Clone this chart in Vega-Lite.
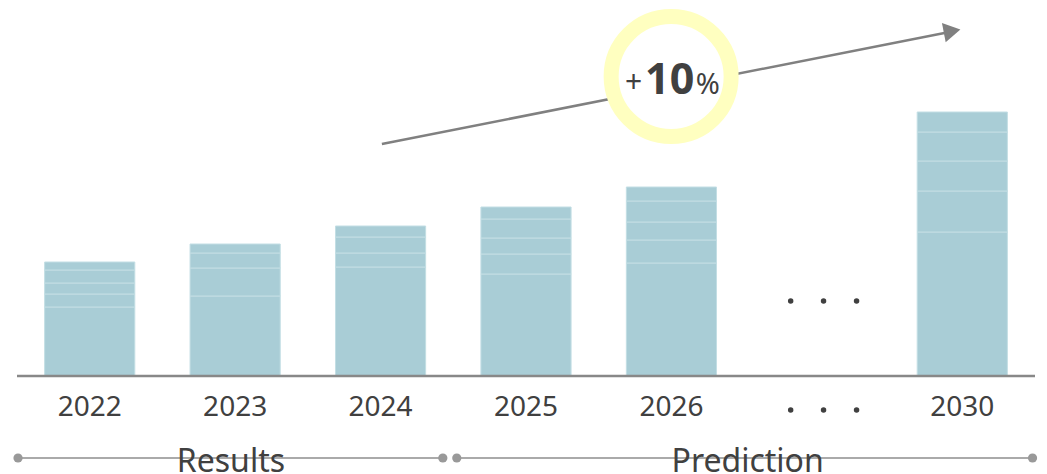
{
  "$schema": "https://vega.github.io/schema/vega-lite/v6.json",
  "width": 1018,
  "height": 474,
  "autosize": "none",
  "padding": {"left": 17, "right": 12, "top": 0, "bottom": 0},
  "background": "white",
  "config": {"view": {"stroke": null}, "font": "Noto Sans"},
  "datasets": {
    "bars": [
      {"year": "2022", "seg": 1, "v": 69}, {"year": "2022", "seg": 2, "v": 13}, {"year": "2022", "seg": 3, "v": 11}, {"year": "2022", "seg": 4, "v": 13}, {"year": "2022", "seg": 5, "v": 8},
      {"year": "2023", "seg": 1, "v": 80}, {"year": "2023", "seg": 2, "v": 28}, {"year": "2023", "seg": 3, "v": 15}, {"year": "2023", "seg": 4, "v": 9},
      {"year": "2024", "seg": 1, "v": 109}, {"year": "2024", "seg": 2, "v": 14}, {"year": "2024", "seg": 3, "v": 16}, {"year": "2024", "seg": 4, "v": 11},
      {"year": "2025", "seg": 1, "v": 102}, {"year": "2025", "seg": 2, "v": 20}, {"year": "2025", "seg": 3, "v": 16}, {"year": "2025", "seg": 4, "v": 19}, {"year": "2025", "seg": 5, "v": 12},
      {"year": "2026", "seg": 1, "v": 113}, {"year": "2026", "seg": 2, "v": 23}, {"year": "2026", "seg": 3, "v": 18}, {"year": "2026", "seg": 4, "v": 21}, {"year": "2026", "seg": 5, "v": 14},
      {"year": "2030", "seg": 1, "v": 144}, {"year": "2030", "seg": 2, "v": 41}, {"year": "2030", "seg": 3, "v": 30}, {"year": "2030", "seg": 4, "v": 29}, {"year": "2030", "seg": 5, "v": 20}
    ],
    "years": [
      {"year": "2022"}, {"year": "2023"}, {"year": "2024"}, {"year": "2025"}, {"year": "2026"}, {"year": "2030"}
    ],
    "dots": [
      {"x": 5.32, "v": 75}, {"x": 5.546, "v": 75}, {"x": 5.773, "v": 75},
      {"x": 5.32, "v": -34}, {"x": 5.546, "v": -34}, {"x": 5.773, "v": -34}
    ],
    "base": [{"x0": 0, "x1": 7, "v": 0}],
    "guides": [
      {"part": "Results", "x0": 0.007, "x1": 2.928, "v": -82, "mid": 1.471},
      {"part": "Prediction", "x0": 3.024, "x1": 6.983, "v": -82, "mid": 5.024}
    ],
    "arrow": [{"x0": 2.509, "v0": 232, "x1": 6.412, "v1": 344, "hx": 6.43, "hv": 345}],
    "badge": [{"x": 4.498, "v": 299.5, "tx": 4.488, "tv": 282, "num": "10"}]
  },
  "layer": [
    {
      "layer": [
        {
          "data": {"name": "bars"},
          "mark": {"type": "bar", "fill": "#a9cdd6", "stroke": "#c3dee4", "strokeWidth": 1},
          "encoding": {
            "x": {"field": "year", "type": "nominal", "axis": null, "sort": null,
                  "scale": {"domain": ["2022", "2023", "2024", "2025", "2026", "…", "2030"], "paddingInner": 0.38, "paddingOuter": 0.19}},
            "y": {"field": "v", "type": "quantitative", "stack": "zero", "axis": null,
                  "scale": {"domain": [-98, 376], "nice": false, "zero": false}},
            "order": {"field": "seg", "type": "quantitative"}
          }
        },
        {
          "data": {"name": "years"},
          "mark": {"type": "text", "fontSize": 28, "color": "#404040", "baseline": "middle", "align": "center"},
          "encoding": {
            "x": {"field": "year", "type": "nominal", "axis": null, "sort": null,
                  "scale": {"domain": ["2022", "2023", "2024", "2025", "2026", "…", "2030"], "paddingInner": 0.38, "paddingOuter": 0.19}},
            "y": {"datum": -32, "type": "quantitative", "axis": null,
                  "scale": {"domain": [-98, 376], "nice": false, "zero": false}},
            "text": {"field": "year"}
          }
        }
      ]
    },
    {
      "layer": [
        {
          "data": {"name": "base"},
          "mark": {"type": "rule", "color": "#888888", "strokeWidth": 2.5},
          "encoding": {
            "x": {"field": "x0", "type": "quantitative", "axis": null, "scale": {"domain": [0, 7], "nice": false, "zero": false}},
            "x2": {"field": "x1"},
            "y": {"field": "v", "type": "quantitative", "axis": null, "scale": {"domain": [-98, 376], "nice": false, "zero": false}}
          }
        },
        {
          "data": {"name": "dots"},
          "mark": {"type": "point", "shape": "circle", "filled": true, "size": 30, "color": "#404040", "opacity": 1},
          "encoding": {
            "x": {"field": "x", "type": "quantitative", "axis": null, "scale": {"domain": [0, 7], "nice": false, "zero": false}},
            "y": {"field": "v", "type": "quantitative", "axis": null, "scale": {"domain": [-98, 376], "nice": false, "zero": false}}
          }
        },
        {
          "data": {"name": "guides"},
          "mark": {"type": "rule", "color": "#aaaaaa", "strokeWidth": 2},
          "encoding": {
            "x": {"field": "x0", "type": "quantitative", "axis": null, "scale": {"domain": [0, 7], "nice": false, "zero": false}},
            "x2": {"field": "x1"},
            "y": {"field": "v", "type": "quantitative", "axis": null, "scale": {"domain": [-98, 376], "nice": false, "zero": false}}
          }
        },
        {
          "data": {"name": "guides"},
          "mark": {"type": "point", "shape": "circle", "filled": true, "size": 85, "color": "#999999", "opacity": 1},
          "encoding": {
            "x": {"field": "x0", "type": "quantitative", "axis": null, "scale": {"domain": [0, 7], "nice": false, "zero": false}},
            "y": {"field": "v", "type": "quantitative", "axis": null, "scale": {"domain": [-98, 376], "nice": false, "zero": false}}
          }
        },
        {
          "data": {"name": "guides"},
          "mark": {"type": "point", "shape": "circle", "filled": true, "size": 85, "color": "#999999", "opacity": 1},
          "encoding": {
            "x": {"field": "x1", "type": "quantitative", "axis": null, "scale": {"domain": [0, 7], "nice": false, "zero": false}},
            "y": {"field": "v", "type": "quantitative", "axis": null, "scale": {"domain": [-98, 376], "nice": false, "zero": false}}
          }
        },
        {
          "data": {"name": "guides"},
          "mark": {"type": "text", "fontSize": 32, "color": "#404040", "baseline": "alphabetic", "align": "center"},
          "encoding": {
            "x": {"field": "mid", "type": "quantitative", "axis": null, "scale": {"domain": [0, 7], "nice": false, "zero": false}},
            "y": {"datum": -96, "type": "quantitative", "axis": null, "scale": {"domain": [-98, 376], "nice": false, "zero": false}},
            "text": {"field": "part"}
          }
        },
        {
          "data": {"name": "arrow"},
          "mark": {"type": "rule", "color": "#808080", "strokeWidth": 2.5},
          "encoding": {
            "x": {"field": "x0", "type": "quantitative", "axis": null, "scale": {"domain": [0, 7], "nice": false, "zero": false}},
            "x2": {"field": "x1"},
            "y": {"field": "v0", "type": "quantitative", "axis": null, "scale": {"domain": [-98, 376], "nice": false, "zero": false}},
            "y2": {"field": "v1"}
          }
        },
        {
          "data": {"name": "arrow"},
          "mark": {"type": "point", "shape": "triangle-right", "filled": true, "size": 380, "color": "#808080", "opacity": 1, "angle": 349},
          "encoding": {
            "x": {"field": "hx", "type": "quantitative", "axis": null, "scale": {"domain": [0, 7], "nice": false, "zero": false}},
            "y": {"field": "hv", "type": "quantitative", "axis": null, "scale": {"domain": [-98, 376], "nice": false, "zero": false}}
          }
        },
        {
          "data": {"name": "badge"},
          "mark": {"type": "point", "shape": "circle", "size": 14400, "fill": "white", "filled": false, "stroke": "#ffffc0", "strokeWidth": 15, "opacity": 1, "fillOpacity": 1, "strokeOpacity": 1},
          "encoding": {
            "x": {"field": "x", "type": "quantitative", "axis": null, "scale": {"domain": [0, 7], "nice": false, "zero": false}},
            "y": {"field": "v", "type": "quantitative", "axis": null, "scale": {"domain": [-98, 376], "nice": false, "zero": false}}
          }
        },
        {
          "data": {"name": "badge"},
          "mark": {"type": "text", "fontSize": 43, "fontWeight": "bold", "color": "#404040", "baseline": "alphabetic", "align": "center"},
          "encoding": {
            "x": {"field": "tx", "type": "quantitative", "axis": null, "scale": {"domain": [0, 7], "nice": false, "zero": false}},
            "y": {"field": "tv", "type": "quantitative", "axis": null, "scale": {"domain": [-98, 376], "nice": false, "zero": false}},
            "text": {"field": "num"}
          }
        },
        {
          "data": {"name": "badge"},
          "mark": {"type": "text", "text": "+", "fontSize": 30, "color": "#404040", "baseline": "alphabetic", "align": "center", "dx": -36, "dy": -2},
          "encoding": {
            "x": {"field": "tx", "type": "quantitative", "axis": null, "scale": {"domain": [0, 7], "nice": false, "zero": false}},
            "y": {"field": "tv", "type": "quantitative", "axis": null, "scale": {"domain": [-98, 376], "nice": false, "zero": false}}
          }
        },
        {
          "data": {"name": "badge"},
          "mark": {"type": "text", "text": "%", "fontSize": 29, "color": "#404040", "baseline": "alphabetic", "align": "center", "dx": 38},
          "encoding": {
            "x": {"field": "tx", "type": "quantitative", "axis": null, "scale": {"domain": [0, 7], "nice": false, "zero": false}},
            "y": {"field": "tv", "type": "quantitative", "axis": null, "scale": {"domain": [-98, 376], "nice": false, "zero": false}}
          }
        }
      ]
    }
  ],
  "resolve": {"scale": {"x": "independent"}}
}
